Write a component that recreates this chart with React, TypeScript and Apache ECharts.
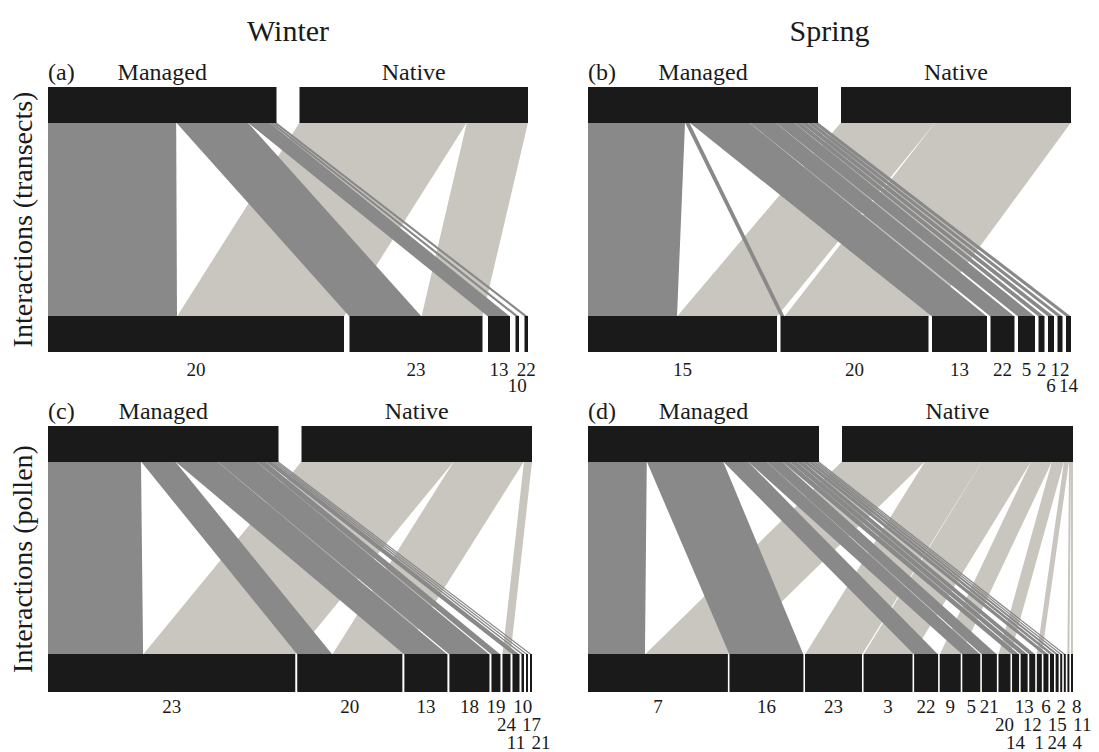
import React, { useEffect, useRef } from 'react';
import * as echarts from 'echarts';

// ---------------- data (interaction link widths per plant, in plot units) ----------------
// (a) Winter, transects
const winterTransectPlants = ['20', '23', '13', '10', '22'];
const winterTransectManaged = [129, 72, 22, 3.5, 3.5];
const winterTransectNative = [167, 61, 0, 0, 0];

// (b) Spring, transects
const springTransectPlants = ['15', '20', '13', '22', '5', '2', '6', '12', '14'];
const springTransectManaged = [89, 4, 55, 24, 17, 6, 6, 5, 5];
const springTransectNative = [100, 144, 0, 0, 0, 0, 0, 0, 0];

// (c) Winter, pollen
const winterPollenPlants = ['23', '20', '13', '18', '19', '24', '11', '10', '17', '21'];
const winterPollenManaged = [95, 35, 43, 40, 9, 0, 7, 2.5, 2, 2];
const winterPollenNative = [152, 70, 0, 0, 0, 8, 0, 0, 0, 0];

// (d) Spring, pollen
const springPollenPlants = ['7', '16', '23', '3', '22', '9', '5', '21', '20', '14', '13', '12', '1', '6', '15', '24', '2', '11', '4', '8'];
const springPollenManaged = [57, 74, 0, 0, 24, 0, 18, 15, 0, 7, 7, 6, 0, 5, 4, 3, 2, 2, 0, 0];
const springPollenNative = [83, 0, 57, 49, 0, 21, 0, 0, 12, 0, 0, 0, 5, 0, 0, 0, 0, 0, 2, 2];

const seasonTitles = ['Winter', 'Spring'];
const rowTitles = ['Interactions (transects)', 'Interactions (pollen)'];
const panelLetters = ['(a)', '(b)', '(c)', '(d)'];
const groupNames = ['Managed', 'Native'];

// ---------------- styling / layout ----------------
const FONT = "'Liberation Serif', 'Times New Roman', serif";
const BAR = '#1b1a1a';
const MANAGED = '#898989';
const NATIVE = '#c9c5bf';
const TEXT = '#1a1a1a';
const TOP_BAR_H = 36;
const TOP_GAP_PX = 23;
const LABEL_SIZE = 19;
const LABEL_PAD = 3;
const SHIFT_PAD = 6;

type PanelCfg = {
  plants: string[];
  managed: number[];
  native: number[];
  left: number;
  width: number;
  top: number;
  height: number;
  lowGap: number;
  lowBarTop: number;
  lowBarH: number;
  labelY0: number;
  labelStep: number;
  headerY: number;
};

const PANELS: PanelCfg[] = [
  { plants: winterTransectPlants, managed: winterTransectManaged, native: winterTransectNative,
    left: 48, width: 480, top: 87, height: 320, lowGap: 5.5, lowBarTop: 229, lowBarH: 36, labelY0: 282, labelStep: 16.5, headerY: 72 },
  { plants: springTransectPlants, managed: springTransectManaged, native: springTransectNative,
    left: 588, width: 483, top: 87, height: 320, lowGap: 3.5, lowBarTop: 229, lowBarH: 36, labelY0: 282, labelStep: 16.5, headerY: 72 },
  { plants: winterPollenPlants, managed: winterPollenManaged, native: winterPollenNative,
    left: 48, width: 484, top: 426, height: 326, lowGap: 2, lowBarTop: 228, lowBarH: 38, labelY0: 280.5, labelStep: 18, headerY: 411 },
  { plants: springPollenPlants, managed: springPollenManaged, native: springPollenNative,
    left: 588, width: 485, top: 426, height: 326, lowGap: 1.6, lowBarTop: 228, lowBarH: 38, labelY0: 280.5, labelStep: 18, headerY: 411 },
];

const sum = (a: number[]) => a.reduce((s, v) => s + v, 0);

function layoutLabels(centersPx: number[], texts: string[]) {
  const widths = texts.map((t) => t.length * LABEL_SIZE * 0.5);
  const attempt = (K: number) => {
    const res: { x: number; row: number }[] = [];
    const rowEnd: number[] = new Array(K).fill(-1e9);
    let shifted = false;
    let prevEnd = -1e9;
    let prevRow = 0;
    centersPx.forEach((c, i) => {
      const w = widths[i];
      const overlap = c - w / 2 < prevEnd + LABEL_PAD;
      const row = overlap ? (prevRow + 1) % K : 0;
      let x = c;
      if (x - w / 2 < rowEnd[row] + LABEL_PAD) {
        x = rowEnd[row] + SHIFT_PAD + w / 2;
        shifted = true;
      }
      rowEnd[row] = x + w / 2;
      prevEnd = x + w / 2;
      prevRow = row;
      res.push({ x, row });
    });
    return { res, shifted };
  };
  const two = attempt(2);
  if (!two.shifted) return two.res;
  return attempt(3).res;
}

function buildPanel(p: PanelCfg) {
  const n = p.plants.length;
  const widths = p.managed.map((m, i) => m + p.native[i]);
  const starts: number[] = [];
  let c = 0;
  for (let i = 0; i < n; i++) {
    starts.push(c);
    c += widths[i] + (i < n - 1 ? p.lowGap : 0);
  }
  const domain = c;
  const u = domain / p.width;
  const topGap = TOP_GAP_PX * u;
  const half = (domain - topGap) / 2;
  const mSum = sum(p.managed);
  const nSum = sum(p.native);
  const items: number[][] = [];
  // native links
  let tn = half + topGap;
  for (let i = 0; i < n; i++) {
    if (p.native[i] > 0) {
      const w = (p.native[i] * half) / nSum;
      items.push([1, tn, tn + w, starts[i] + p.managed[i], starts[i] + widths[i]]);
      tn += w;
    }
  }
  // managed links
  let tm = 0;
  for (let i = 0; i < n; i++) {
    if (p.managed[i] > 0) {
      const w = (p.managed[i] * half) / mSum;
      items.push([0, tm, tm + w, starts[i], starts[i] + p.managed[i]]);
      tm += w;
    }
  }
  // higher level bars
  items.push([2, 0, half, 0, 0]);
  items.push([2, half + topGap, domain, 0, 0]);
  // lower level bars
  for (let i = 0; i < n; i++) items.push([3, starts[i], starts[i] + widths[i], 0, 0]);
  // labels
  const centersPx = starts.map((s, i) => (s + widths[i] / 2) / u);
  const labs = layoutLabels(centersPx, p.plants);
  labs.forEach((l, i) => items.push([4, l.x * u, l.row, i, 0]));
  return { items, domain, half, topGap, u };
}

function makeRenderItem(p: PanelCfg) {
  return (params: any, api: any) => {
    const kind = api.value(0);
    const y1 = TOP_BAR_H;
    const y2 = p.lowBarTop;
    if (kind === 0 || kind === 1) {
      const pts = [
        api.coord([api.value(1), y1 - 0.5]),
        api.coord([api.value(2), y1 - 0.5]),
        api.coord([api.value(4), y2 + 0.5]),
        api.coord([api.value(3), y2 + 0.5]),
      ];
      return { type: 'polygon', shape: { points: pts }, style: { fill: kind === 0 ? MANAGED : NATIVE } };
    }
    if (kind === 2 || kind === 3) {
      const ya = kind === 2 ? 0 : y2;
      const yb = kind === 2 ? y1 : y2 + p.lowBarH;
      const a = api.coord([api.value(1), ya]);
      const b = api.coord([api.value(2), yb]);
      return { type: 'rect', shape: { x: a[0], y: a[1], width: Math.max(b[0] - a[0], 0.8), height: b[1] - a[1] }, style: { fill: BAR } };
    }
    const idx = api.value(3);
    const pt = api.coord([api.value(1), p.labelY0 + api.value(2) * p.labelStep]);
    return {
      type: 'text',
      x: pt[0],
      y: pt[1],
      style: {
        text: p.plants[idx], fill: TEXT, fontSize: LABEL_SIZE, fontFamily: FONT,
        lineHeight: 14, align: 'center', verticalAlign: 'middle',
      },
    };
  };
}

export default function App() {
  const ref = useRef<HTMLDivElement>(null);
  useEffect(() => {
    if (!ref.current) return;
    const chart = echarts.init(ref.current, undefined, { renderer: 'svg' });
    const built = PANELS.map(buildPanel);

    const graphics: any[] = [];
    const txt = (text: string, x: number, y: number, size: number, align = 'center', rotation = 0) => ({
      type: 'text',
      x,
      y,
      rotation,
      style: { text, fill: TEXT, fontSize: size, fontFamily: FONT, align, verticalAlign: 'middle' },
    });
    seasonTitles.forEach((t, i) => {
      const p = PANELS[i];
      graphics.push(txt(t, p.left + p.width / 2, 30, 30));
    });
    rowTitles.forEach((t, i) => {
      const p = PANELS[i * 2];
      graphics.push(txt(t, 22, p.top + (p.lowBarTop + p.lowBarH) / 2, 28, 'center', Math.PI / 2));
    });
    PANELS.forEach((p, i) => {
      const b = built[i];
      const halfPx = b.half / b.u;
      const gapPx = b.topGap / b.u;
      graphics.push(txt(panelLetters[i], p.left, p.headerY, 24, 'left'));
      graphics.push(txt(groupNames[0], p.left + halfPx / 2, p.headerY, 24));
      graphics.push(txt(groupNames[1], p.left + halfPx + gapPx + halfPx / 2, p.headerY, 24));
    });

    chart.setOption({
      animation: false,
      backgroundColor: '#ffffff',
      grid: PANELS.map((p) => ({ left: p.left, top: p.top, width: p.width, height: p.height })),
      xAxis: PANELS.map((p, i) => ({ type: 'value', gridIndex: i, min: 0, max: built[i].domain, show: false })),
      yAxis: PANELS.map((p, i) => ({ type: 'value', gridIndex: i, min: 0, max: p.height, inverse: true, show: false })),
      series: PANELS.map((p, i) => ({
        type: 'custom',
        xAxisIndex: i,
        yAxisIndex: i,
        clip: false,
        silent: true,
        renderItem: makeRenderItem(p),
        data: built[i].items,
      })),
      graphic: graphics,
    });
    return () => chart.dispose();
  }, []);
  return <div ref={ref} style={{ position: 'absolute', left: 0, top: 0, width: 1099, height: 752, background: '#fff' }} />;
}
